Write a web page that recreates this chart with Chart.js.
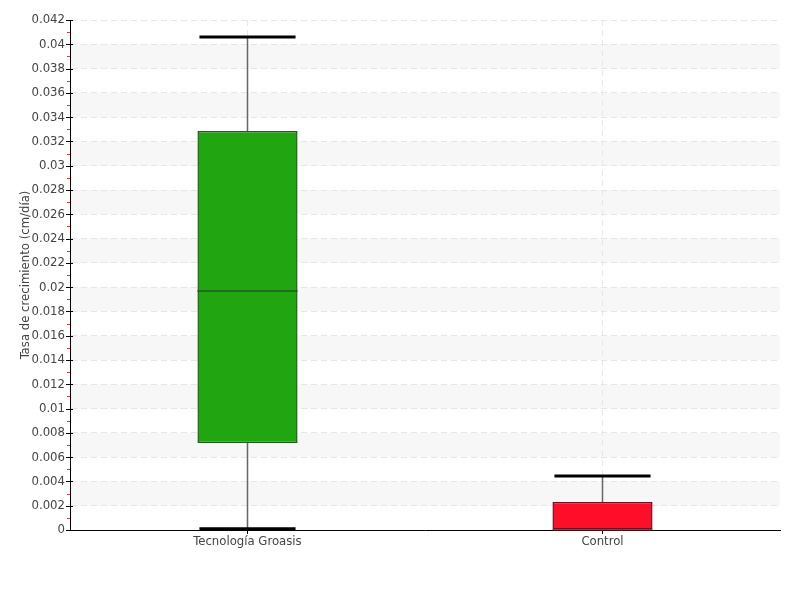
<!DOCTYPE html>
<html>
<head>
<meta charset="utf-8">
<script src="https://cdn.jsdelivr.net/npm/chart.js"></script>
<style>
  html, body { margin: 0; padding: 0; background: #fff; }
  #wrap { width: 800px; height: 600px; }
</style>
</head>
<body>
<div id="wrap"><canvas id="myChart" width="800" height="600"></canvas></div>
<script>
  // box plot values
  const categories = ['Tecnología Groasis', 'Control'];
  const minVals = [0.0001, 0];
  const q1Vals = [0.00716, 0];
  const medianVals = [0.01968, 0];
  const q3Vals = [0.03286, 0.0023];
  const maxVals = [0.0406, 0.00445];
  const boxColors = ['#21a511', '#ff0e29'];
  const boxBorders = ['#1d5e1d', '#6e1020'];
  const yMax = 0.042;
  const yStep = 0.002;

  const font = "'Liberation Sans Narrow', 'DejaVu Sans Condensed', sans-serif";

  // alternate grey bands + custom tick marks
  const bandsPlugin = {
    id: 'bands',
    beforeDraw(chart) {
      const { ctx, chartArea, scales: { y } } = chart;
      ctx.save();
      ctx.fillStyle = '#f7f7f7';
      for (let v = yStep; v < yMax; v += 2 * yStep) {
        const top = y.getPixelForValue(v + yStep);
        const bot = y.getPixelForValue(v);
        ctx.fillRect(chartArea.left, top, chartArea.right - chartArea.left, bot - top);
      }
      ctx.restore();
    },
    afterDraw(chart) {
      const { ctx, chartArea, scales: { y } } = chart;
      const x = chartArea.left;
      ctx.save();
      ctx.lineWidth = 1;
      for (let i = 0; i <= Math.round(yMax / yStep); i++) {
        const py = Math.round(y.getPixelForValue(i * yStep)) + 0.5;
        ctx.strokeStyle = '#000';
        ctx.beginPath(); ctx.moveTo(x - 4, py); ctx.lineTo(x + 3, py); ctx.stroke();
        if (i < Math.round(yMax / yStep)) {
          const pm = Math.round(y.getPixelForValue(i * yStep + yStep / 2)) + 0.5;
          ctx.strokeStyle = '#e8303a';
          ctx.beginPath(); ctx.moveTo(x - 3, pm); ctx.lineTo(x, pm); ctx.stroke();
        }
      }
      ctx.restore();
    }
  };

  // whiskers, caps and medians
  const whiskerPlugin = {
    id: 'whiskers',
    afterDatasetsDraw(chart) {
      const { ctx, scales: { y } } = chart;
      const meta = chart.getDatasetMeta(0);
      ctx.save();
      meta.data.forEach((bar, i) => {
        const cx = bar.x;
        const half = bar.width / 2;
        const capHalf = half - 2;
        const pMin = y.getPixelForValue(minVals[i]);
        const pQ1 = y.getPixelForValue(q1Vals[i]);
        const pQ3 = y.getPixelForValue(q3Vals[i]);
        const pMax = y.getPixelForValue(maxVals[i]);
        const pMed = y.getPixelForValue(medianVals[i]);
        ctx.strokeStyle = '#666';
        ctx.lineWidth = 1.5;
        ctx.beginPath();
        ctx.moveTo(cx, pQ3); ctx.lineTo(cx, pMax);
        ctx.moveTo(cx, pQ1); ctx.lineTo(cx, pMin);
        ctx.stroke();
        ctx.strokeStyle = '#000';
        ctx.lineWidth = 3;
        ctx.beginPath();
        ctx.moveTo(cx - capHalf, pMax); ctx.lineTo(cx + capHalf, pMax);
        if (minVals[i] !== q1Vals[i]) {
          ctx.moveTo(cx - capHalf, pMin); ctx.lineTo(cx + capHalf, pMin);
        }
        ctx.stroke();
        ctx.strokeStyle = boxBorders[i];
        ctx.lineWidth = 1.5;
        ctx.beginPath();
        ctx.moveTo(cx - half, pMed); ctx.lineTo(cx + half, pMed);
        ctx.stroke();
      });
      ctx.restore();
    }
  };

  const ctx = document.getElementById('myChart');

  new Chart(ctx, {
    type: 'bar',
    data: {
      labels: categories,
      datasets: [{
        data: q1Vals.map((q, i) => [q, q3Vals[i]]),
        backgroundColor: boxColors,
        borderColor: boxBorders,
        borderWidth: 1.5,
        borderSkipped: false,
        barPercentage: 0.282,
        categoryPercentage: 1
      }]
    },
    options: {
      responsive: false,
      animation: false,
      layout: { padding: { top: 20, right: 20, left: 0, bottom: 0 } },
      plugins: {
        legend: { display: false },
        tooltip: { enabled: false }
      },
      scales: {
        x: {
          grid: {
            offset: false,
            color: '#e8e8e8',
            tickColor: '#000',
            tickLength: 4
          },
          border: { display: true, color: '#000', width: 1, dash: [6, 4] },
          ticks: { color: '#444', font: { family: font, size: 13 }, padding: 0 },
          afterFit(scale) { scale.height = 70; }
        },
        y: {
          min: 0,
          max: yMax,
          grid: { color: '#e6e6e6', drawTicks: false },
          border: { display: true, color: '#000', width: 1, dash: [6, 4] },
          ticks: {
            stepSize: yStep,
            padding: 5,
            color: '#444',
            font: { family: font, size: 13 },
            callback: (v) => String(parseFloat(v.toFixed(3)))
          },
          title: {
            display: true,
            text: 'Tasa de crecimiento (cm/día)',
            color: '#444',
            font: { family: font, size: 13 },
            padding: { top: 18, bottom: 0 }
          },
          afterFit(scale) { scale.width = 70; }
        }
      }
    },
    plugins: [bandsPlugin, whiskerPlugin]
  });
</script>
</body>
</html>
